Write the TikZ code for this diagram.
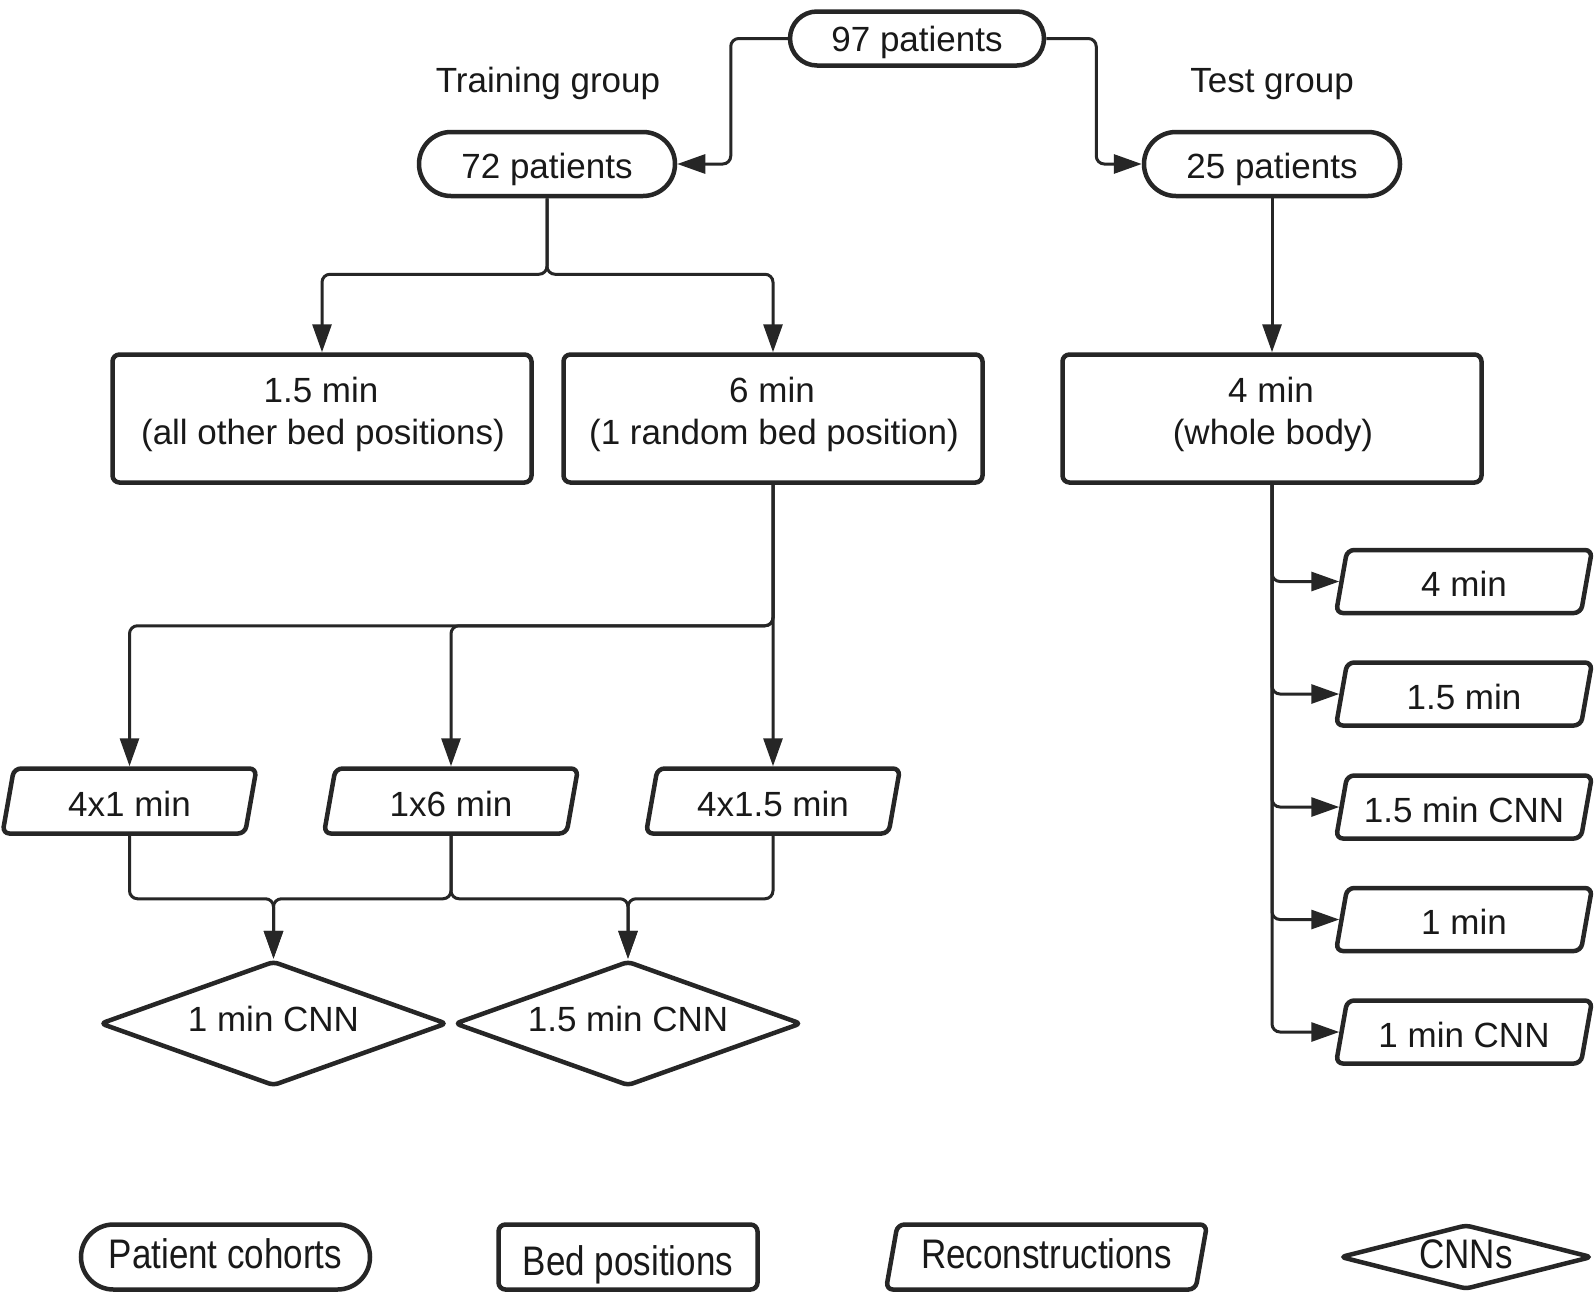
\documentclass[tikz,border=0pt]{standalone}
\usepackage{fontspec}
\setmainfont{Liberation Sans}
\usetikzlibrary{shapes.geometric,shapes.misc,arrows.meta}
% text placed with its baseline #1 below the node centre
\newcommand\txtat[2]{\makebox[2pt]{\raisebox{-#1}[1pt][1pt]{#2}}}
% same, with a box of half-height #3 (for parallelograms)
\newcommand\ptxt[3]{\makebox[2pt]{\raisebox{-#1}[#3][#3]{#2}}}
\newcommand\legtxt[2]{\makebox[2pt]{\raisebox{-#1}[1pt][1pt]{\scalebox{1}[1.18]{#2}}}}
\newcommand\plegtxt[2]{\makebox[2pt]{\raisebox{-#1}[31.5pt][31.5pt]{\scalebox{1}[1.18]{#2}}}}
\begin{document}
\begin{tikzpicture}[x=1pt,y=-1pt,
  every node/.style={font=\fontsize{35}{43}\selectfont, inner sep=1pt, text=black!90},
  shp/.style={draw=black!85, line width=4.5pt, fill=white},
  cohort/.style={shp, rounded rectangle, minimum height=64pt, minimum width=258pt},
  bedbox/.style={shp, rectangle, rounded corners=7pt, minimum width=419pt, minimum height=128pt},
  recon/.style={shp, trapezium, trapezium left angle=80, trapezium right angle=100, trapezium stretches body=true, rounded corners=7pt, minimum width=254pt},
  cnn/.style={shp, diamond, aspect=2.78, minimum width=347pt, minimum height=125pt, rounded corners=5pt},
  conn/.style={draw=black!85, line width=3pt, rounded corners=8pt},
  arr/.style={conn, -{Triangle[length=28pt,width=19pt]}},
]
\useasboundingbox[fill=white] (0,0) rectangle (1594,1293);

% top
\node[cohort, minimum width=256pt, minimum height=54pt] (n97) at (917,38.5) {\txtat{13pt}{97 patients}};
\node (tg) at (548,79) {\txtat{13pt}{Training group}};
\node (tsg) at (1272,79) {\txtat{13pt}{Test group}};
\node[cohort] (n72) at (547,164) {\txtat{14pt}{72 patients}};
\node[cohort] (n25) at (1272,164) {\txtat{14pt}{25 patients}};

% bed positions
\node[bedbox] (b1) at (322,418.5) {\txtat{-16pt}{1.5 min}\txtat{25.5pt}{(all other bed positions)}};
\node[bedbox] (b2) at (773,418.5) {\txtat{-16pt}{6 min}\txtat{25.5pt}{(1 random bed position)}};
\node[bedbox] (b3) at (1272,418.5) {\txtat{-16pt}{4 min}\txtat{25.5pt}{(whole body)}};

% training reconstructions
\node[recon] (r1) at (129.5,801) {\ptxt{15pt}{4x1 min}{31.5pt}};
\node[recon] (r2) at (451,801) {\ptxt{15pt}{1x6 min}{31.5pt}};
\node[recon] (r3) at (773,801) {\ptxt{15pt}{4x1.5 min}{31.5pt}};

% CNNs
\node[cnn] (d1) at (273.5,1023.5) {\txtat{8pt}{1 min CNN}};
\node[cnn] (d2) at (628,1023.5) {\txtat{8pt}{1.5 min CNN}};

% test reconstructions
\node[recon, minimum width=256pt] (t1) at (1464,581.5) {\ptxt{15pt}{4 min}{30.5pt}};
\node[recon, minimum width=256pt] (t2) at (1464,694) {\ptxt{15pt}{1.5 min}{30.5pt}};
\node[recon, minimum width=256pt] (t3) at (1464,807) {\ptxt{15pt}{1.5 min CNN}{30.5pt}};
\node[recon, minimum width=256pt] (t4) at (1464,919.5) {\ptxt{15pt}{1 min}{30.5pt}};
\node[recon, minimum width=256pt] (t5) at (1464,1032) {\ptxt{15pt}{1 min CNN}{30.5pt}};

% legend
\node[cohort, minimum width=291pt, minimum height=65pt] (lg1) at (225.5,1257) {\legtxt{11pt}{Patient cohorts}};
\node[shp, rectangle, rounded corners=7pt, minimum width=259pt, minimum height=65pt] (lg2) at (628,1257) {\legtxt{18pt}{Bed positions}};
\node[recon, minimum width=321pt] (lg3) at (1046.5,1257) {\plegtxt{11pt}{Reconstructions}};
\node[cnn, aspect=3.9, minimum width=252pt, minimum height=65pt] (lg4) at (1466,1257) {\legtxt{11pt}{CNNs}};

% connectors
\draw[arr] (n97.west) -- ++(-57,0) |- (n72.east);
\draw[arr] (n97.east) -- ++(50,0) |- (n25.west);
\draw[arr] (n72.south) -- ++(0,76) -| (b1.north);
\draw[arr] (n72.south) -- ++(0,76) -| (b2.north);
\draw[arr] (n25.south) -- (b3.north);
\draw[arr] (b2.south) -- ++(0,141) -| (r1.north);
\draw[arr] (b2.south) -- ++(0,141) -| (r2.north);
\draw[arr] (b2.south) -- (r3.north);
\draw[arr] (r1.south) -- ++(0,63) -| (d1.north);
\draw[arr] (r2.south) -- ++(0,63) -| (d1.north);
\draw[arr] (r2.south) -- ++(0,63) -| (d2.north);
\draw[arr] (r3.south) -- ++(0,63) -| (d2.north);
\foreach \t in {t1,t2,t3,t4,t5}
  \draw[arr] (b3.south) |- (\t.west);
\end{tikzpicture}
\end{document}
